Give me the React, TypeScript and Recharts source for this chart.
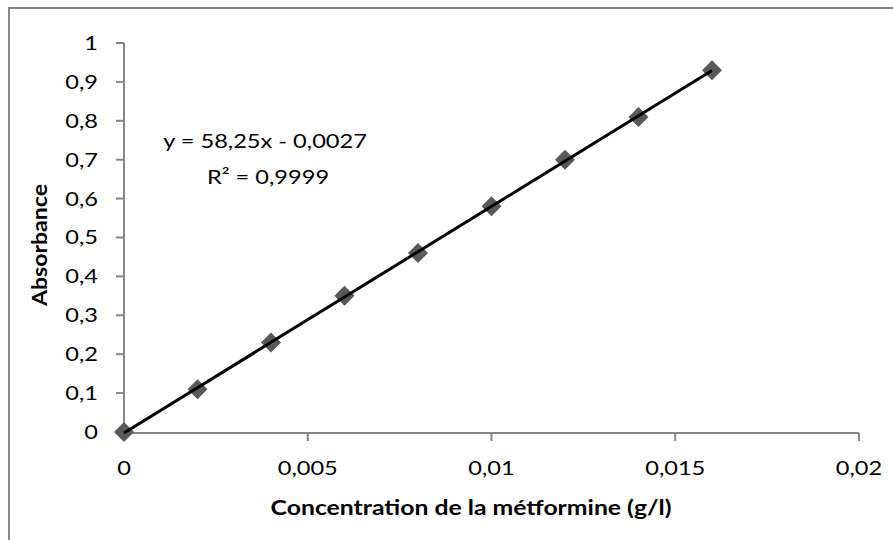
import { ScatterChart, Scatter, XAxis, YAxis } from "recharts";

// Calibration points: concentration (g/l) vs absorbance
const concentrations = [0, 0.002, 0.004, 0.006, 0.008, 0.01, 0.012, 0.014, 0.016];
const absorbances = [0, 0.11, 0.23, 0.35, 0.46, 0.58, 0.7, 0.81, 0.93];

// Linear fit shown on the chart
const slope = 58.25;
const intercept = -0.0027;
const rSquared = "0,9999";

const xTicks = [0, 0.005, 0.01, 0.015, 0.02];
const yTicks = [0, 0.1, 0.2, 0.3, 0.4, 0.5, 0.6, 0.7, 0.8, 0.9, 1];

const points = concentrations.map((x, i) => ({ x, y: absorbances[i] }));
const fitLine = [0, concentrations[concentrations.length - 1]].map((x) => ({ x, y: slope * x + intercept }));

const FONT = "Lato, 'Open Sans', sans-serif";
const AXIS = "#868686";
const SX = 1.18;
const FS = 20;

const fmt = (v: number) => String(v).replace(".", ",");

function XTick({ x, y, payload }: any) {
  return (
    <g transform={`translate(${x},${y}) scale(${SX},1)`}>
      <text textAnchor="middle" dy="0.35em" fontFamily={FONT} fontSize={FS} fill="#000">
        {fmt(payload.value)}
      </text>
    </g>
  );
}

function YTick({ x, y, payload }: any) {
  return (
    <g transform={`translate(${x},${y}) scale(${SX},1)`}>
      <text textAnchor="end" dy="0.35em" fontFamily={FONT} fontSize={FS} fill="#000">
        {fmt(payload.value)}
      </text>
    </g>
  );
}

function Diamond({ cx, cy }: any) {
  const r = 10;
  return <polygon points={`${cx},${cy - r} ${cx + r},${cy} ${cx},${cy + r} ${cx - r},${cy}`} fill="#595959" />;
}

export default function App() {
  return (
    <div
      style={{
        position: "absolute",
        left: 0,
        top: 0,
        width: 893,
        height: 540,
        overflow: "hidden",
        background: "#fff"
      }}
    >
      <div
        style={{
          position: "absolute",
          left: 8,
          top: 7,
          width: 900,
          height: 560,
          borderLeft: `2px solid ${AXIS}`,
          borderTop: `2px solid ${AXIS}`
        }}
      />
      <div style={{ position: "absolute", left: 0, top: 0 }}>
        <ScatterChart width={893} height={540} margin={{ top: 43, right: 34, bottom: 47, left: 64 }}>
          <XAxis
            type="number"
            dataKey="x"
            domain={[0, 0.02]}
            ticks={xTicks}
            height={60}
            axisLine={{ stroke: AXIS, strokeWidth: 2 }}
            tickLine={{ stroke: AXIS, strokeWidth: 2 }}
            tickSize={8}
            tickMargin={27}
            tick={<XTick />}
          />
          <YAxis
            type="number"
            dataKey="y"
            domain={[0, 1]}
            ticks={yTicks}
            width={60}
            axisLine={{ stroke: AXIS, strokeWidth: 2 }}
            tickLine={{ stroke: AXIS, strokeWidth: 2 }}
            tickSize={8}
            tickMargin={18}
            tick={<YTick />}
          />
          <Scatter data={points} shape={<Diamond />} isAnimationActive={false} />
          <Scatter
            data={fitLine}
            line={{ stroke: "#000", strokeWidth: 3 }}
            shape={() => <g />}
            isAnimationActive={false}
          />
        </ScatterChart>
      </div>
      <svg width={893} height={540} style={{ position: "absolute", left: 0, top: 0, pointerEvents: "none" }}>
        <g transform={`translate(40,245) rotate(-90) scale(1.1,1)`}>
          <text textAnchor="middle" dy="0.35em" fontFamily={FONT} fontWeight={700} fontSize={21} fill="#000">
            Absorbance
          </text>
        </g>
        <g transform={`translate(471,508) scale(1.18,1)`}>
          <text textAnchor="middle" dy="0.35em" fontFamily={FONT} fontWeight={700} fontSize={21} fill="#000">
            Concentration de la métformine (g/l)
          </text>
        </g>
        <g transform={`translate(265,141) scale(${SX},1)`}>
          <text textAnchor="middle" dy="0.35em" fontFamily={FONT} fontSize={FS} fill="#000">
            {`y = ${fmt(slope)}x - ${fmt(Math.abs(intercept))}`}
          </text>
        </g>
        <g transform={`translate(268,177) scale(${SX},1)`}>
          <text textAnchor="middle" dy="0.35em" fontFamily={FONT} fontSize={FS} fill="#000">
            {`R² = ${rSquared}`}
          </text>
        </g>
      </svg>
    </div>
  );
}
